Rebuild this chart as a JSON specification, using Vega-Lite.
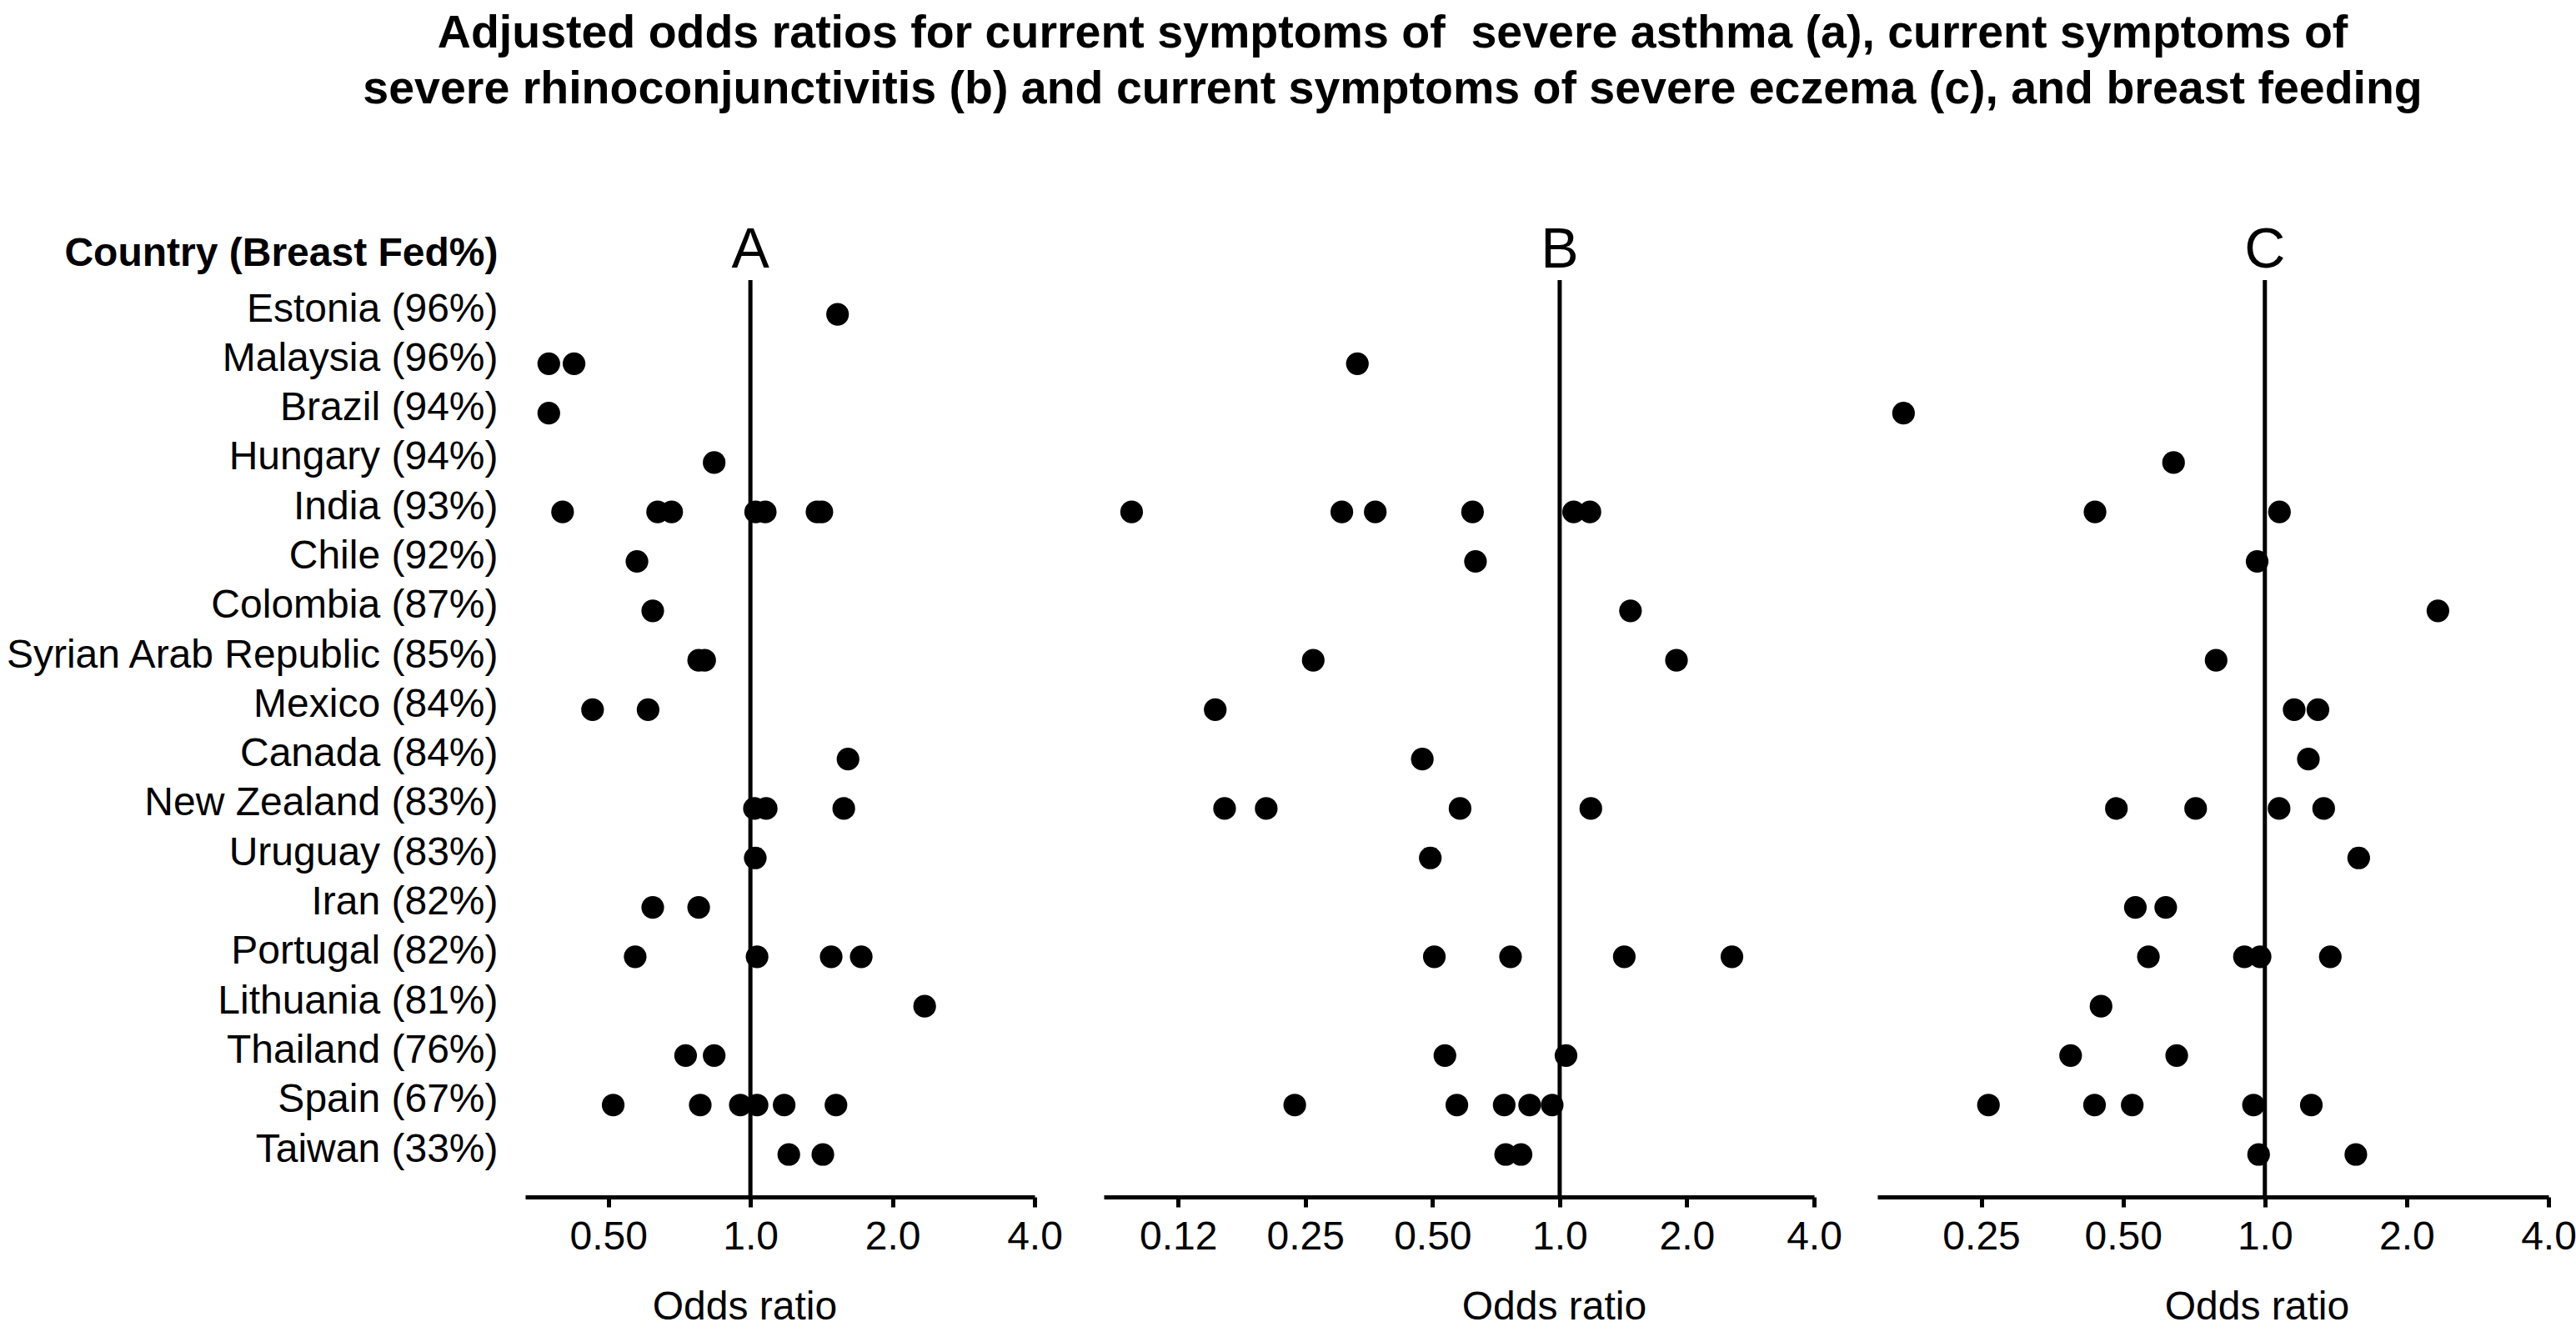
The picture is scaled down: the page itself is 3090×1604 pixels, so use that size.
{
  "$schema": "https://vega.github.io/schema/vega-lite/v6.json",
  "background": "white",
  "padding": {"left": 4, "top": 12, "right": 0, "bottom": 0},
  "config": {
    "font": "Liberation Sans",
    "view": {"stroke": null},
    "axis": {
      "grid": false,
      "domainWidth": 5,
      "domainColor": "black",
      "tickWidth": 5,
      "tickColor": "black",
      "tickSize": 12,
      "labelFontSize": 48,
      "labelColor": "black",
      "labelPadding": 12,
      "labelFlush": false,
      "labelOverlap": false,
      "titleFontSize": 48,
      "titleColor": "black",
      "titleFontWeight": "normal"
    }
  },
  "title": {
    "text": ["Adjusted odds ratios for current symptoms of \u00a0severe asthma (a), current symptoms of", "severe rhinoconjunctivitis (b) and current symptoms of severe eczema (c), and breast feeding"],
    "fontSize": 55.5,
    "fontWeight": "bold",
    "lineHeight": 67,
    "color": "black",
    "anchor": "middle",
    "dx": 123,
    "offset": 132
  },
  "datasets": {
    "A": [
      {"country": "Estonia (96%)", "or": 1.53},
      {"country": "Malaysia (96%)", "or": 0.374},
      {"country": "Malaysia (96%)", "or": 0.423},
      {"country": "Brazil (94%)", "or": 0.374},
      {"country": "Hungary (94%)", "or": 0.838},
      {"country": "India (93%)", "or": 0.4},
      {"country": "India (93%)", "or": 0.636},
      {"country": "India (93%)", "or": 0.681},
      {"country": "India (93%)", "or": 1.026},
      {"country": "India (93%)", "or": 1.075},
      {"country": "India (93%)", "or": 1.384},
      {"country": "India (93%)", "or": 1.417},
      {"country": "Chile (92%)", "or": 0.575},
      {"country": "Colombia (87%)", "or": 0.621},
      {"country": "Syrian Arab Republic (85%)", "or": 0.777},
      {"country": "Syrian Arab Republic (85%)", "or": 0.8},
      {"country": "Mexico (84%)", "or": 0.463},
      {"country": "Mexico (84%)", "or": 0.607},
      {"country": "Canada (84%)", "or": 1.61},
      {"country": "New Zealand (83%)", "or": 1.02},
      {"country": "New Zealand (83%)", "or": 1.08},
      {"country": "New Zealand (83%)", "or": 1.577},
      {"country": "Uruguay (83%)", "or": 1.024},
      {"country": "Iran (82%)", "or": 0.621},
      {"country": "Iran (82%)", "or": 0.777},
      {"country": "Portugal (82%)", "or": 0.57},
      {"country": "Portugal (82%)", "or": 1.033},
      {"country": "Portugal (82%)", "or": 1.483},
      {"country": "Portugal (82%)", "or": 1.717},
      {"country": "Lithuania (81%)", "or": 2.34},
      {"country": "Thailand (76%)", "or": 0.729},
      {"country": "Thailand (76%)", "or": 0.838},
      {"country": "Spain (67%)", "or": 0.512},
      {"country": "Spain (67%)", "or": 0.783},
      {"country": "Spain (67%)", "or": 0.952},
      {"country": "Spain (67%)", "or": 1.033},
      {"country": "Spain (67%)", "or": 1.179},
      {"country": "Spain (67%)", "or": 1.518},
      {"country": "Taiwan (33%)", "or": 1.206},
      {"country": "Taiwan (33%)", "or": 1.424}
    ],
    "B": [
      {"country": "Malaysia (96%)", "or": 0.332},
      {"country": "India (93%)", "or": 0.097},
      {"country": "India (93%)", "or": 0.305},
      {"country": "India (93%)", "or": 0.366},
      {"country": "India (93%)", "or": 0.622},
      {"country": "India (93%)", "or": 1.079},
      {"country": "India (93%)", "or": 1.179},
      {"country": "Chile (92%)", "or": 0.632},
      {"country": "Colombia (87%)", "or": 1.471},
      {"country": "Syrian Arab Republic (85%)", "or": 0.261},
      {"country": "Syrian Arab Republic (85%)", "or": 1.89},
      {"country": "Mexico (84%)", "or": 0.153},
      {"country": "Canada (84%)", "or": 0.473},
      {"country": "New Zealand (83%)", "or": 0.161},
      {"country": "New Zealand (83%)", "or": 0.202},
      {"country": "New Zealand (83%)", "or": 0.581},
      {"country": "New Zealand (83%)", "or": 1.185},
      {"country": "Uruguay (83%)", "or": 0.494},
      {"country": "Portugal (82%)", "or": 0.505},
      {"country": "Portugal (82%)", "or": 0.765},
      {"country": "Portugal (82%)", "or": 1.422},
      {"country": "Portugal (82%)", "or": 2.557},
      {"country": "Thailand (76%)", "or": 0.535},
      {"country": "Thailand (76%)", "or": 1.035},
      {"country": "Spain (67%)", "or": 0.236},
      {"country": "Spain (67%)", "or": 0.571},
      {"country": "Spain (67%)", "or": 0.739},
      {"country": "Spain (67%)", "or": 0.849},
      {"country": "Spain (67%)", "or": 0.96},
      {"country": "Taiwan (33%)", "or": 0.745},
      {"country": "Taiwan (33%)", "or": 0.81}
    ],
    "C": [
      {"country": "Brazil (94%)", "or": 0.171},
      {"country": "Hungary (94%)", "or": 0.64},
      {"country": "India (93%)", "or": 0.436},
      {"country": "India (93%)", "or": 1.074},
      {"country": "Chile (92%)", "or": 0.963},
      {"country": "Colombia (87%)", "or": 2.33},
      {"country": "Syrian Arab Republic (85%)", "or": 0.788},
      {"country": "Mexico (84%)", "or": 1.154},
      {"country": "Mexico (84%)", "or": 1.296},
      {"country": "Canada (84%)", "or": 1.237},
      {"country": "New Zealand (83%)", "or": 0.484},
      {"country": "New Zealand (83%)", "or": 0.713},
      {"country": "New Zealand (83%)", "or": 1.072},
      {"country": "New Zealand (83%)", "or": 1.333},
      {"country": "Uruguay (83%)", "or": 1.582},
      {"country": "Iran (82%)", "or": 0.531},
      {"country": "Iran (82%)", "or": 0.616},
      {"country": "Portugal (82%)", "or": 0.566},
      {"country": "Portugal (82%)", "or": 0.905},
      {"country": "Portugal (82%)", "or": 0.977},
      {"country": "Portugal (82%)", "or": 1.377},
      {"country": "Lithuania (81%)", "or": 0.449},
      {"country": "Thailand (76%)", "or": 0.387},
      {"country": "Thailand (76%)", "or": 0.65},
      {"country": "Spain (67%)", "or": 0.259},
      {"country": "Spain (67%)", "or": 0.435},
      {"country": "Spain (67%)", "or": 0.523},
      {"country": "Spain (67%)", "or": 0.946},
      {"country": "Spain (67%)", "or": 1.255},
      {"country": "Taiwan (33%)", "or": 0.97},
      {"country": "Taiwan (33%)", "or": 1.56}
    ]
  },
  "spacing": 49,
  "hconcat": [
    {
      "width": 611,
      "height": 1100,
      "layer": [
        {
          "data": {"values": [{}]},
          "mark": {"type": "rule", "strokeWidth": 5, "color": "black"},
          "encoding": {"x": {"datum": 1, "type": "quantitative"}}
        },
        {
          "data": {"name": "A"},
          "mark": {"type": "point", "filled": true, "size": 740, "color": "black", "opacity": 1, "strokeWidth": 0},
          "encoding": {
            "x": {
              "field": "or", "type": "quantitative",
              "scale": {"type": "log", "domain": [0.33333, 4], "nice": false},
              "axis": {
                "title": "Odds ratio",
                "values": [0.5, 1, 2, 4],
                "labelExpr": "datum.value < 0.2 ? '0.12' : (datum.value < 1 ? format(datum.value, '.2f') : format(datum.value, '.1f'))",
                "titleX": 263, "titleY": 146, "titleBaseline": "alphabetic", "titleAlign": "center"
              }
            },
            "y": {
              "field": "country", "type": "nominal",
              "scale": {"type": "point", "padding": 0.776, "align": 0.446, "domain": ["Estonia (96%)", "Malaysia (96%)", "Brazil (94%)", "Hungary (94%)", "India (93%)", "Chile (92%)", "Colombia (87%)", "Syrian Arab Republic (85%)", "Mexico (84%)", "Canada (84%)", "New Zealand (83%)", "Uruguay (83%)", "Iran (82%)", "Portugal (82%)", "Lithuania (81%)", "Thailand (76%)", "Spain (67%)", "Taiwan (33%)"]},
              "axis": {
                "title": "Country (Breast Fed%)",
                "titleFontWeight": "bold",
                "titleAngle": 0, "titleAlign": "right", "titleBaseline": "alphabetic",
                "titleX": -33, "titleY": -18,
                "ticks": false, "domain": false,
                "labelPadding": 33, "labelLimit": 1000,
                "labelBaseline": "alphabetic", "labelOffset": 8
              }
            }
          }
        },
        {
          "data": {"values": [{}]},
          "mark": {"type": "text", "fontSize": 68, "baseline": "alphabetic", "align": "center", "dy": -56, "color": "black"},
          "encoding": {
            "x": {"datum": 1, "type": "quantitative"},
            "y": {"datum": "Estonia (96%)", "type": "nominal", "scale": {"type": "point", "padding": 0.776, "align": 0.446, "domain": ["Estonia (96%)", "Malaysia (96%)", "Brazil (94%)", "Hungary (94%)", "India (93%)", "Chile (92%)", "Colombia (87%)", "Syrian Arab Republic (85%)", "Mexico (84%)", "Canada (84%)", "New Zealand (83%)", "Uruguay (83%)", "Iran (82%)", "Portugal (82%)", "Lithuania (81%)", "Thailand (76%)", "Spain (67%)", "Taiwan (33%)"]}},
            "text": {"value": "A"}
          }
        }
      ]
    },
    {
      "spacing": 42,
      "hconcat": [
        {
          "width": 852,
          "height": 1100,
          "layer": [
            {
              "data": {"values": [{}]},
              "mark": {"type": "rule", "strokeWidth": 5, "color": "black"},
              "encoding": {"x": {"datum": 1, "type": "quantitative"}}
            },
            {
              "data": {"name": "B"},
              "mark": {"type": "point", "filled": true, "size": 740, "color": "black", "opacity": 1, "strokeWidth": 0},
              "encoding": {
                "x": {
                  "field": "or", "type": "quantitative",
                  "scale": {"type": "log", "domain": [0.083333, 4], "nice": false},
                  "axis": {
                    "title": "Odds ratio",
                    "values": [0.125, 0.25, 0.5, 1, 2, 4],
                    "labelExpr": "datum.value < 0.2 ? '0.12' : (datum.value < 1 ? format(datum.value, '.2f') : format(datum.value, '.1f'))",
                    "titleX": 540, "titleY": 146, "titleBaseline": "alphabetic", "titleAlign": "center"
                  }
                },
                "y": {
                  "field": "country", "type": "nominal",
                  "scale": {"type": "point", "padding": 0.776, "align": 0.446, "domain": ["Estonia (96%)", "Malaysia (96%)", "Brazil (94%)", "Hungary (94%)", "India (93%)", "Chile (92%)", "Colombia (87%)", "Syrian Arab Republic (85%)", "Mexico (84%)", "Canada (84%)", "New Zealand (83%)", "Uruguay (83%)", "Iran (82%)", "Portugal (82%)", "Lithuania (81%)", "Thailand (76%)", "Spain (67%)", "Taiwan (33%)"]},
                  "axis": null
                }
              }
            },
            {
              "data": {"values": [{}]},
              "mark": {"type": "text", "fontSize": 68, "baseline": "alphabetic", "align": "center", "dy": -56, "color": "black"},
              "encoding": {
                "x": {"datum": 1, "type": "quantitative"},
                "y": {"datum": "Estonia (96%)", "type": "nominal", "scale": {"type": "point", "padding": 0.776, "align": 0.446, "domain": ["Estonia (96%)", "Malaysia (96%)", "Brazil (94%)", "Hungary (94%)", "India (93%)", "Chile (92%)", "Colombia (87%)", "Syrian Arab Republic (85%)", "Mexico (84%)", "Canada (84%)", "New Zealand (83%)", "Uruguay (83%)", "Iran (82%)", "Portugal (82%)", "Lithuania (81%)", "Thailand (76%)", "Spain (67%)", "Taiwan (33%)"]}},
                "text": {"value": "B"}
              }
            }
          ]
        },
        {
          "width": 805,
          "height": 1100,
          "layer": [
            {
              "data": {"values": [{}]},
              "mark": {"type": "rule", "strokeWidth": 5, "color": "black"},
              "encoding": {"x": {"datum": 1, "type": "quantitative"}}
            },
            {
              "data": {"name": "C"},
              "mark": {"type": "point", "filled": true, "size": 740, "color": "black", "opacity": 1, "strokeWidth": 0},
              "encoding": {
                "x": {
                  "field": "or", "type": "quantitative",
                  "scale": {"type": "log", "domain": [0.1505, 4], "nice": false},
                  "axis": {
                    "title": "Odds ratio",
                    "values": [0.25, 0.5, 1, 2, 4],
                    "labelExpr": "datum.value < 0.2 ? '0.12' : (datum.value < 1 ? format(datum.value, '.2f') : format(datum.value, '.1f'))",
                    "titleX": 455, "titleY": 146, "titleBaseline": "alphabetic", "titleAlign": "center"
                  }
                },
                "y": {
                  "field": "country", "type": "nominal",
                  "scale": {"type": "point", "padding": 0.776, "align": 0.446, "domain": ["Estonia (96%)", "Malaysia (96%)", "Brazil (94%)", "Hungary (94%)", "India (93%)", "Chile (92%)", "Colombia (87%)", "Syrian Arab Republic (85%)", "Mexico (84%)", "Canada (84%)", "New Zealand (83%)", "Uruguay (83%)", "Iran (82%)", "Portugal (82%)", "Lithuania (81%)", "Thailand (76%)", "Spain (67%)", "Taiwan (33%)"]},
                  "axis": null
                }
              }
            },
            {
              "data": {"values": [{}]},
              "mark": {"type": "text", "fontSize": 68, "baseline": "alphabetic", "align": "center", "dy": -56, "color": "black"},
              "encoding": {
                "x": {"datum": 1, "type": "quantitative"},
                "y": {"datum": "Estonia (96%)", "type": "nominal", "scale": {"type": "point", "padding": 0.776, "align": 0.446, "domain": ["Estonia (96%)", "Malaysia (96%)", "Brazil (94%)", "Hungary (94%)", "India (93%)", "Chile (92%)", "Colombia (87%)", "Syrian Arab Republic (85%)", "Mexico (84%)", "Canada (84%)", "New Zealand (83%)", "Uruguay (83%)", "Iran (82%)", "Portugal (82%)", "Lithuania (81%)", "Thailand (76%)", "Spain (67%)", "Taiwan (33%)"]}},
                "text": {"value": "C"}
              }
            }
          ]
        }
      ]
    }
  ]
}
